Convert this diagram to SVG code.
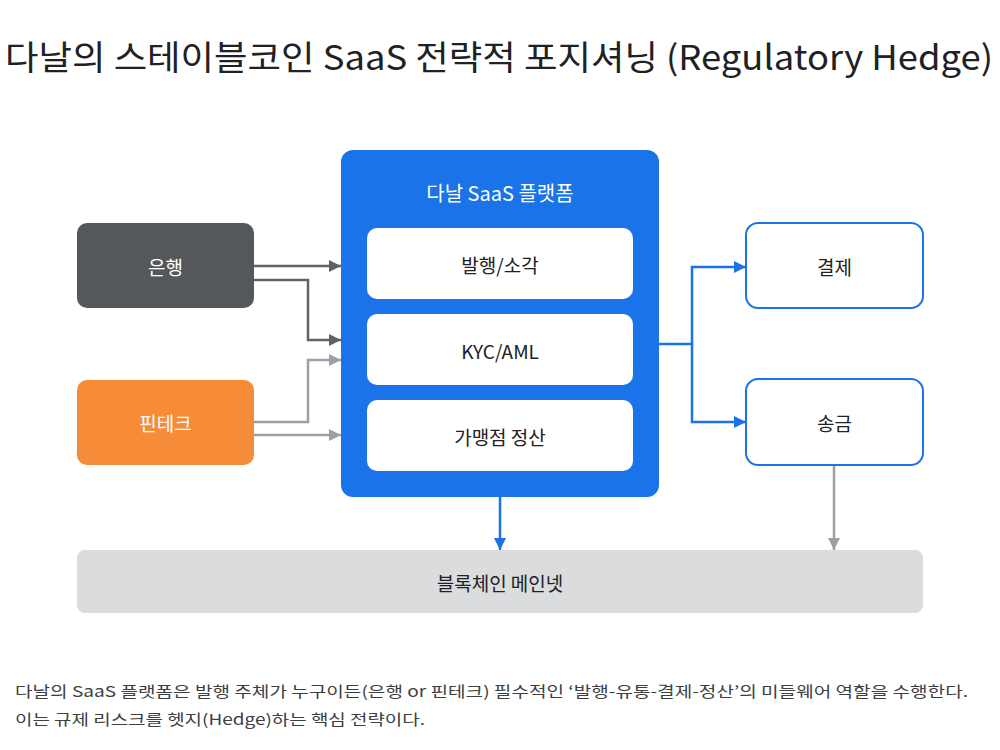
<svg xmlns="http://www.w3.org/2000/svg" width="1000" height="750" viewBox="0 0 1000 750">
<defs>
<style>
text{font-family:"Noto Sans CJK KR","Noto Sans",sans-serif}
.title{font-size:34px;fill:#202124}
.lbl{font-size:19px;text-anchor:middle;dominant-baseline:central}
.big{font-size:20px}
.w{fill:#ffffff}
.d{fill:#202124}
.note{font-size:15px;fill:#3c4043}
.cg{fill:none;stroke:#5f6368;stroke-width:2.5}
.cl{fill:none;stroke:#9aa0a6;stroke-width:2.5}
.cb{fill:none;stroke:#1a73e8;stroke-width:2.5}
</style>
<marker id="ag" viewBox="0 0 10 10" refX="10" refY="5" markerWidth="5" markerHeight="5" markerUnits="strokeWidth" orient="auto"><path d="M0,0L10,5L0,10z" fill="#5f6368"/></marker>
<marker id="al" viewBox="0 0 10 10" refX="10" refY="5" markerWidth="5" markerHeight="5" markerUnits="strokeWidth" orient="auto"><path d="M0,0L10,5L0,10z" fill="#9aa0a6"/></marker>
<marker id="ab" viewBox="0 0 10 10" refX="10" refY="5" markerWidth="5" markerHeight="5" markerUnits="strokeWidth" orient="auto"><path d="M0,0L10,5L0,10z" fill="#1a73e8"/></marker>
</defs>
<rect width="1000" height="750" fill="#ffffff"/>
<text class="title" x="5" y="70" textLength="988" lengthAdjust="spacingAndGlyphs">다날의 스테이블코인 SaaS 전략적 포지셔닝 (Regulatory Hedge)</text>

<g id="connectors">
<path class="cg" d="M254,266H341" marker-end="url(#ag)"/>
<path class="cg" d="M254,280H308V340H341" marker-end="url(#ag)"/>
<path class="cl" d="M254,422H308V360H341" marker-end="url(#al)"/>
<path class="cl" d="M254,435H341" marker-end="url(#al)"/>
<path class="cb" d="M659,344H692V267H746" marker-end="url(#ab)"/>
<path class="cb" d="M692,344V422H746" marker-end="url(#ab)"/>
<path class="cb" d="M500,497V550" marker-end="url(#ab)"/>
<path class="cl" d="M834,465V550" marker-end="url(#al)"/>
</g>

<g id="bank">
<rect x="77" y="223" width="177" height="85" rx="10" fill="#55585b"/>
<text class="lbl w" x="165.5" y="266">은행</text>
</g>
<g id="fintech">
<rect x="77" y="380" width="177" height="85" rx="10" fill="#f68c38"/>
<text class="lbl w" x="165.5" y="422">핀테크</text>
</g>

<g id="platform">
<rect x="341" y="150" width="318" height="347" rx="12" fill="#1a73e8"/>
<text class="lbl big w" x="500" y="192">다날 SaaS 플랫폼</text>
</g>
<g id="issue">
<rect x="367" y="228" width="266" height="71" rx="10" fill="#ffffff"/>
<text class="lbl d" x="500" y="264">발행/소각</text>
</g>
<g id="kyc">
<rect x="367" y="314" width="266" height="71" rx="10" fill="#ffffff"/>
<text class="lbl d" x="500" y="350">KYC/AML</text>
</g>
<g id="settle">
<rect x="367" y="400" width="266" height="71" rx="10" fill="#ffffff"/>
<text class="lbl d" x="500" y="436">가맹점 정산</text>
</g>

<g id="payment">
<rect x="746" y="223" width="177" height="85" rx="12" fill="#ffffff" stroke="#1a73e8" stroke-width="2"/>
<text class="lbl d" x="834.5" y="266">결제</text>
</g>
<g id="remit">
<rect x="746" y="379" width="177" height="86" rx="12" fill="#ffffff" stroke="#1a73e8" stroke-width="2"/>
<text class="lbl d" x="834.5" y="422">송금</text>
</g>

<g id="blockchain">
<rect x="77" y="550" width="846" height="63" rx="8" fill="#dadcde"/>
<text class="lbl d" x="500" y="582">블록체인 메인넷</text>
</g>

<text class="note" x="15" y="697" textLength="953" lengthAdjust="spacingAndGlyphs">다날의 SaaS 플랫폼은 발행 주체가 누구이든(은행 or 핀테크) 필수적인 ‘발행-유통-결제-정산’의 미들웨어 역할을 수행한다.</text>
<text class="note" x="15" y="725" textLength="410" lengthAdjust="spacingAndGlyphs">이는 규제 리스크를 헷지(Hedge)하는 핵심 전략이다.</text>
</svg>
